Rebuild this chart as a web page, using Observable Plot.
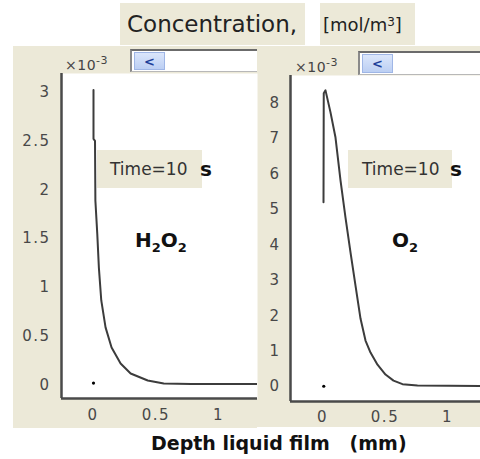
<!DOCTYPE html>
<html><head><meta charset="utf-8">
<script src="https://cdn.jsdelivr.net/npm/d3@7"></script>
<script src="https://cdn.jsdelivr.net/npm/@observablehq/plot@0.6"></script>
<style>
html,body{margin:0;padding:0;background:#fff;}
#root{position:relative;width:480px;height:459px;overflow:hidden;font-family:"DejaVu Sans",sans-serif;}
.abs{position:absolute;}
.beige{background:#ece9d8;}
.box{display:flex;align-items:center;white-space:pre;}
.widget{background:#fff;border-top:2px solid #6b6b6b;border-left:2px solid #8a8a8a;border-bottom:1px solid #b8b8b8;box-sizing:border-box;}
.btn{background:linear-gradient(#dbe6fb,#bccff3);border:1px solid #9fb6e6;box-sizing:border-box;color:#1d3f9a;font:bold 13px "DejaVu Sans";display:flex;align-items:center;justify-content:center;}
.mult{font-size:14px;color:#444;letter-spacing:0.5px;white-space:pre;}
.mult sup{font-size:11px;}
svg{display:block;}
</style></head><body><div id="root"></div>
<script>
// ---- data ----
const titleText = "Concentration,";
const unitText = "[mol/m";
const xLabel = "Depth liquid film   (mm)";
const timeLabel = "Time=10";
const xTickValues = [0, 0.5, 1];
const h2o2YTicks = [0, 0.5, 1, 1.5, 2, 2.5, 3];
const o2YTicks = [0, 1, 2, 3, 4, 5, 6, 7, 8];
// H2O2 concentration (x10^-3 mol/m3) vs depth (mm)
const h2o2Depth = [0.003, 0.003, 0.015, 0.018, 0.033, 0.046, 0.065, 0.099, 0.147, 0.219, 0.299, 0.435, 0.563, 0.78, 1.31];
const h2o2Conc  = [3.02, 2.52, 2.50, 1.89, 1.55, 1.20, 0.866, 0.59, 0.384, 0.22, 0.118, 0.046, 0.015, 0.01, 0.01];
// O2 concentration (x10^-3 mol/m3) vs depth (mm)
const o2Depth = [0.008, 0.010, 0.024, 0.064, 0.104, 0.144, 0.184, 0.224, 0.264, 0.304, 0.344, 0.384, 0.44, 0.504, 0.568, 0.64, 0.76, 1.264];
const o2Conc  = [5.20, 8.28, 8.36, 7.74, 7.03, 5.82, 4.77, 3.79, 2.85, 1.92, 1.30, 0.96, 0.62, 0.34, 0.17, 0.07, 0.03, 0.015];
const h2o2Marker = [{x: 0.003, y: 0.02}];
const o2Marker = [{x: 0.01, y: 0.01}];

const h2o2 = h2o2Depth.map((d, i) => ({depth: d, conc: h2o2Conc[i]}));
const o2 = o2Depth.map((d, i) => ({depth: d, conc: o2Conc[i]}));

const root = document.getElementById("root");
function el(html){const t=document.createElement("template");t.innerHTML=html.trim();const n=t.content.firstChild;root.appendChild(n);return n;}

// title boxes
el(`<div class="abs beige box" style="left:120px;top:3px;width:185px;height:42px;font-size:23px;color:#222;padding-left:7px;box-sizing:border-box;">${titleText}</div>`);
el(`<div class="abs beige box" style="left:320px;top:3px;width:95px;height:42px;font-size:18px;color:#222;padding-left:3px;box-sizing:border-box;">${unitText}<sup style="font-size:12px;position:relative;top:-2px">3</sup>]</div>`);

// panels
el(`<div class="abs beige" style="left:13px;top:46px;width:244px;height:382px;"></div>`);
el(`<div class="abs beige" style="left:257px;top:46px;width:223px;height:381px;"></div>`);

const axisStyle = {background:"transparent", fontFamily:"DejaVu Sans", fontSize:"15px", color:"#484848", letterSpacing:"1.5px", overflow:"visible"};
const fmt = d => String(d);

const xL = [-0.252, 1.31], yL = [-0.138, 3.19];
const leftPlot = Plot.plot({
  width: 244, height: 382,
  marginLeft: 48, marginRight: 0, marginTop: 27, marginBottom: 30,
  x: {domain: xL}, y: {domain: yL},
  style: axisStyle,
  marks: [
    Plot.frame({fill: "white", stroke: null}),
    Plot.axisY(h2o2YTicks, {tickSize: 0, tickPadding: 11, label: null, tickFormat: fmt}),
    Plot.axisX(xTickValues, {tickSize: 0, tickPadding: 11, label: null, tickFormat: fmt}),
    Plot.line(h2o2, {x: "depth", y: "conc", stroke: "#3c3c3c", strokeWidth: 2, clip: true}),
    Plot.dot(h2o2Marker, {x: "x", y: "y", r: 1.6, fill: "#000", stroke: null}),
    Plot.ruleX([xL[0]], {stroke: "#4a4a4a", strokeWidth: 2.5}),
    Plot.ruleY([yL[0]], {stroke: "#4a4a4a", strokeWidth: 2.5})
  ]
});
leftPlot.style.position = "absolute"; leftPlot.style.left = "13px"; leftPlot.style.top = "46px";
root.appendChild(leftPlot);

const xR = [-0.256, 1.264], yR = [-0.42, 8.78];
const rightPlot = Plot.plot({
  width: 223, height: 381,
  marginLeft: 33, marginRight: 0, marginTop: 29, marginBottom: 26,
  x: {domain: xR}, y: {domain: yR},
  style: axisStyle,
  marks: [
    Plot.frame({fill: "white", stroke: null}),
    Plot.axisY(o2YTicks, {tickSize: 0, tickPadding: 10, label: null, tickFormat: fmt}),
    Plot.axisX(xTickValues, {tickSize: 0, tickPadding: 10, label: null, tickFormat: fmt}),
    Plot.line(o2, {x: "depth", y: "conc", stroke: "#3c3c3c", strokeWidth: 2, clip: true}),
    Plot.dot(o2Marker, {x: "x", y: "y", r: 1.6, fill: "#000", stroke: null}),
    Plot.ruleX([xR[0]], {stroke: "#4a4a4a", strokeWidth: 2.5}),
    Plot.ruleY([yR[0]], {stroke: "#4a4a4a", strokeWidth: 2.5})
  ]
});
rightPlot.style.position = "absolute"; rightPlot.style.left = "257px"; rightPlot.style.top = "46px";
root.appendChild(rightPlot);

// multiplier labels
el(`<div class="abs mult" style="left:65px;top:54px;">×10<sup>-3</sup></div>`);
el(`<div class="abs mult" style="left:295px;top:56px;">×10<sup>-3</sup></div>`);

// scroll widgets
el(`<div class="abs widget" style="left:130px;top:49px;width:127px;height:23px;"></div>`);
el(`<div class="abs btn" style="left:134px;top:52px;width:31px;height:18px;">&lt;</div>`);
el(`<div class="abs widget" style="left:358px;top:51px;width:122px;height:24px;"></div>`);
el(`<div class="abs btn" style="left:362px;top:54px;width:31px;height:19px;">&lt;</div>`);

// time boxes
el(`<div class="abs beige" style="left:97px;top:150px;width:105px;height:38px;"></div>`);
el(`<div class="abs box" style="left:110px;top:150px;height:38px;font-size:17px;color:#333;">${timeLabel}</div>`);
el(`<div class="abs box" style="left:200px;top:150px;height:38px;font-size:20px;font-weight:bold;color:#111;">s</div>`);
el(`<div class="abs beige" style="left:348px;top:150px;width:104px;height:38px;"></div>`);
el(`<div class="abs box" style="left:362px;top:150px;height:38px;font-size:17px;color:#333;">${timeLabel}</div>`);
el(`<div class="abs box" style="left:450px;top:150px;height:38px;font-size:20px;font-weight:bold;color:#111;">s</div>`);

// species labels
el(`<div class="abs" style="left:135px;top:228px;font-size:20px;font-weight:bold;color:#111;white-space:pre;">H<sub style="font-size:13px">2</sub>O<sub style="font-size:13px">2</sub></div>`);
el(`<div class="abs" style="left:392px;top:228px;font-size:20px;font-weight:bold;color:#111;white-space:pre;">O<sub style="font-size:13px">2</sub></div>`);

// x label
el(`<div class="abs" style="left:151px;top:432px;font-size:19px;font-weight:bold;color:#111;white-space:pre;">${xLabel}</div>`);
</script></body></html>
